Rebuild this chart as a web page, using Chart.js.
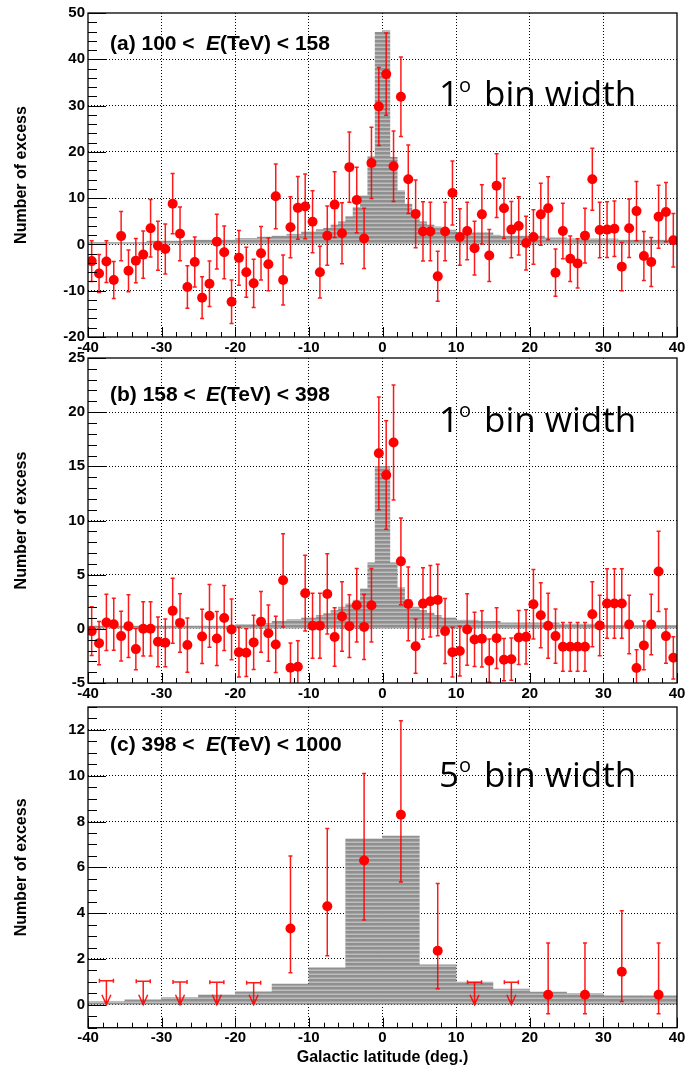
<!DOCTYPE html>
<html>
<head>
<meta charset="utf-8">
<script src="https://cdn.jsdelivr.net/npm/chart.js@4.4.1/dist/chart.umd.min.js"></script>
<style>
  html, body { margin: 0; padding: 0; background: #fff; }
  body { width: 690px; height: 1072px; position: relative; overflow: hidden; }
  canvas { position: absolute; left: 0; }
</style>
</head>
<body>
<canvas id="chartA" width="690" height="360" style="top:0px"></canvas>
<canvas id="chartB" width="690" height="360" style="top:345px"></canvas>
<canvas id="chartC" width="690" height="377" style="top:695px"></canvas>
<script>
// bin centres (deg)
const lat1deg = [
  -39.5, -38.5, -37.5, -36.5, -35.5, -34.5, -33.5, -32.5, -31.5, -30.5,
  -29.5, -28.5, -27.5, -26.5, -25.5, -24.5, -23.5, -22.5, -21.5, -20.5,
  -19.5, -18.5, -17.5, -16.5, -15.5, -14.5, -13.5, -12.5, -11.5, -10.5,
  -9.5, -8.5, -7.5, -6.5, -5.5, -4.5, -3.5, -2.5, -1.5, -0.5,
  0.5, 1.5, 2.5, 3.5, 4.5, 5.5, 6.5, 7.5, 8.5, 9.5,
  10.5, 11.5, 12.5, 13.5, 14.5, 15.5, 16.5, 17.5, 18.5, 19.5,
  20.5, 21.5, 22.5, 23.5, 24.5, 25.5, 26.5, 27.5, 28.5, 29.5,
  30.5, 31.5, 32.5, 33.5, 34.5, 35.5, 36.5, 37.5, 38.5, 39.5
];
const lat5deg = [-37.5, -32.5, -27.5, -22.5, -17.5, -12.5, -7.5, -2.5, 2.5, 7.5, 12.5, 17.5, 22.5, 27.5, 32.5, 37.5];

// (a) 100 < E < 158 TeV
const modelA = [
  0.43, 0.43, 0.43, 0.43, 0.43, 0.43, 0.43, 0.43, 0.71, 0.71,
  0.71, 0.71, 0.71, 0.93, 0.93, 0.93, 0.93, 0.93, 0.93, 0.93,
  1.3, 1.3, 1.3, 1.58, 1.58, 1.8, 1.8, 2.2, 2.2, 2.7,
  2.7, 3.2, 3.5, 4.2, 4.9, 6.0, 8.0, 10.5, 18.9, 45.8,
  46.2, 18.8, 11.6, 8.7, 5.6, 4.9, 4.2, 3.8, 3.1, 3.1,
  2.5, 2.5, 2.5, 2.5, 2.5, 2.0, 1.8, 1.8, 1.8, 1.8,
  1.8, 1.8, 1.4, 1.4, 1.4, 1.2, 1.2, 1.2, 1.2, 1.2,
  1.2, 1.2, 0.93, 0.93, 0.93, 0.93, 0.93, 0.93, 0.93, 0.93
];
const excessA = [
  -3.6, -6.3, -3.7, -7.7, 1.8, -5.7, -3.5, -2.2, 3.5, -0.3,
  -1.0, 8.8, 2.3, -9.2, -3.8, -11.5, -8.5, 0.6, -1.7, -12.4,
  -2.9, -6.0, -8.4, -1.9, -4.3, 10.4, -7.7, 3.7, 7.9, 8.2,
  4.9, -6.0, 1.9, 8.6, 2.4, 16.7, 9.6, 1.3, 17.6, 29.8,
  36.8, 16.9, 31.9, 14.1, 6.6, 2.8, 2.8, -6.9, 2.8, 11.1,
  1.6, 2.9, -0.8, 6.5, -2.4, 12.7, 7.8, 3.2, 4.0, 0.3,
  1.6, 6.5, 7.8, -6.1, 2.9, -3.1, -4.1, 1.9, 14.1, 3.1,
  3.2, 3.4, -4.8, 3.5, 7.2, -2.5, -3.8, 6.0, 7.0, 0.9
];
const errA = [
  4.4, 4.1, 4.5, 4.0, 5.3, 4.5, 4.8, 5.1, 6.2, 5.3,
  5.4, 6.5, 5.8, 4.6, 5.4, 4.5, 4.9, 5.9, 5.7, 4.7,
  5.9, 5.4, 5.2, 5.8, 5.7, 7.0, 5.4, 6.6, 6.8, 7.0,
  6.7, 5.6, 6.4, 7.1, 6.6, 7.6, 7.1, 6.5, 7.7, 8.4,
  8.9, 7.6, 8.6, 7.4, 7.3, 6.4, 6.3, 5.4, 6.3, 6.9,
  6.1, 6.2, 5.8, 6.4, 5.6, 6.9, 6.5, 6.1, 6.3, 5.8,
  5.9, 6.7, 6.8, 5.1, 6.0, 4.9, 5.3, 5.9, 6.7, 6.0,
  6.0, 6.0, 5.2, 6.3, 6.4, 5.3, 5.3, 6.8, 6.4, 5.8
];

// (b) 158 < E < 398 TeV
const modelB = [
  0.25, 0.25, 0.25, 0.25, 0.25, 0.25, 0.25, 0.25, 0.25, 0.25,
  0.25, 0.25, 0.25, 0.25, 0.25, 0.25, 0.25, 0.25, 0.25, 0.25,
  0.4, 0.4, 0.4, 0.5, 0.5, 0.7, 0.7, 0.85, 0.85, 1.0,
  1.0, 1.25, 1.4, 1.7, 2.0, 2.3, 2.65, 3.7, 6.1, 15.0,
  15.0, 6.1, 3.8, 2.7, 2.0, 1.7, 1.45, 1.25, 1.0, 1.0,
  0.8, 0.8, 0.8, 0.7, 0.7, 0.7, 0.55, 0.55, 0.55, 0.55,
  0.55, 0.55, 0.55, 0.55, 0.43, 0.43, 0.43, 0.43, 0.43, 0.43,
  0.3, 0.3, 0.3, 0.3, 0.3, 0.3, 0.3, 0.3, 0.3, 0.3
];
const excessB = [
  -0.21, -1.32, 0.59, 0.43, -0.67, 0.25, -1.87, 0.0, 0.0, -1.2,
  -1.29, 1.66, 0.55, -1.5, null, -0.7, 1.2, -0.89, 1.0, -0.05,
  -2.15, -2.2, -1.25, 0.65, -0.4, -1.44, 4.48, -3.6, -3.5, 3.29,
  0.28, 0.28, 3.22, -0.76, 1.14, 0.25, 2.18, 0.18, 2.18, 16.2,
  14.2, 17.2, 6.23, 2.3, -1.6, 2.33, 2.55, 2.67, -0.21, -2.15,
  -2.05, -0.06, -0.98, -0.92, -2.94, -0.86, -2.85, -2.8, -0.8, -0.74,
  2.27, 1.26, 0.28, -0.67, -1.66, -1.66, -1.66, -1.66, 1.35, 0.31,
  2.34, 2.34, 2.34, 0.4, -3.62, -1.53, 0.4, 5.3, -0.67, -2.67
];
const errB = [
  2.25, 2.0, 2.6, 2.4, 2.3, 2.9, 1.9, 2.5, 2.5, 2.3,
  2.2, 3.0, 2.7, 2.5, null, 2.5, 2.9, 2.5, 3.0, 2.8,
  2.3, 2.2, 2.5, 2.8, 2.6, 2.6, 4.3, 2.3, 2.4, 3.5,
  3.0, 3.0, 3.7, 2.7, 3.2, 2.9, 3.4, 3.0, 3.4, 5.2,
  5.0, 5.3, 4.0, 3.4, 2.5, 3.3, 3.3, 3.3, 3.0, 2.3,
  2.3, 3.3, 2.5, 2.6, 2.0, 2.8, 1.95, 1.95, 2.5, 2.5,
  3.2, 3.0, 3.0, 2.5, 2.25, 2.25, 2.25, 2.25, 3.0, 2.8,
  3.2, 3.2, 3.2, 2.7, 1.7, 2.25, 2.8, 3.7, 2.5, 1.95
];

// (c) 398 < E < 1000 TeV, 5 deg bins
const modelC = [0.14, 0.22, 0.31, 0.43, 0.57, 0.9, 1.61, 7.25, 7.37, 1.74, 0.99, 0.69, 0.56, 0.49, 0.39, 0.39];
const latC = [-12.5, -7.5, -2.5, 2.5, 7.5, 22.5, 27.5, 32.5, 37.5];
const excessC = [3.33, 4.3, 6.3, 8.3, 2.36, 0.44, 0.44, 1.44, 0.44];
const errLoC = [1.93, 2.16, 2.6, 2.94, 1.66, 0.83, 0.83, 1.3, 0.83];
const errHiC = [3.17, 3.4, 3.8, 4.1, 2.94, 2.26, 2.26, 2.66, 2.26];
const ulLatC = [-37.5, -32.5, -27.5, -22.5, -17.5, 12.5, 17.5];
const ulValC = [1.05, 1.03, 1.0, 0.98, 0.96, 0.98, 0.98];

const SANS = '"Liberation Sans", Arial, Helvetica, sans-serif';
const tickFont = { family: SANS, size: 15, weight: 'bold' };
const titleFont = { family: SANS, size: 16, weight: 'bold' };

function isMajor(v, step) {
    const r = v / step;
    return Math.abs(r - Math.round(r)) < 1e-6;
}

function stripes(ctx) {
    const c = document.createElement('canvas');
    c.width = 4; c.height = 4;
    const g = c.getContext('2d');
    g.fillStyle = '#8f8f8f';
    g.fillRect(0, 0, 4, 4);
    g.fillStyle = '#a6a6a6';
    g.fillRect(0, 2, 4, 1);
    g.fillStyle = '#bdbdbd';
    g.fillRect(0, 3, 4, 1);
    return ctx.createPattern(c, 'repeat');
}

function makeDecor(p) {
    return {
        id: 'decor',
        beforeDatasetDraw(chart, args) {
            if (args.index !== 0) return;
            const { ctx, chartArea: a, scales: { x, y } } = chart;
            ctx.save();
            ctx.beginPath();
            ctx.rect(a.left, a.top, a.right - a.left, a.bottom - a.top);
            ctx.clip();
            ctx.strokeStyle = 'rgba(255, 0, 0, 0.9)';
            ctx.lineWidth = 1.5;
            ctx.beginPath();
            p.ptX.forEach((lat, i) => {
                const v = p.ptY[i];
                if (v === null) return;
                const px = x.getPixelForValue(lat);
                const lo = y.getPixelForValue(v - p.errLo[i]);
                const hi = y.getPixelForValue(v + p.errHi[i]);
                ctx.moveTo(px, lo); ctx.lineTo(px, hi);
                ctx.moveTo(px - 2, lo); ctx.lineTo(px + 2, lo);
                ctx.moveTo(px - 2, hi); ctx.lineTo(px + 2, hi);
            });
            // upper limits
            (p.ulX || []).forEach((lat, i) => {
                const px = x.getPixelForValue(lat);
                const top = y.getPixelForValue(p.ulY[i]);
                const tip = y.getPixelForValue(0);
                ctx.moveTo(px - 7, top); ctx.lineTo(px + 7, top);
                ctx.moveTo(px - 7, top - 2); ctx.lineTo(px - 7, top + 2);
                ctx.moveTo(px + 7, top - 2); ctx.lineTo(px + 7, top + 2);
                ctx.moveTo(px, top); ctx.lineTo(px, tip);
                ctx.moveTo(px - 4.5, tip - 10); ctx.lineTo(px, tip); ctx.lineTo(px + 4.5, tip - 10);
            });
            ctx.stroke();
            ctx.restore();
        },
        afterDraw(chart) {
            const { ctx, chartArea: a, scales: { x, y } } = chart;
            ctx.save();
            // ticks inside the frame
            ctx.strokeStyle = '#000';
            ctx.lineWidth = 1;
            ctx.beginPath();
            y.ticks.forEach(t => {
                const py = Math.round(y.getPixelForValue(t.value)) + 0.5;
                const len = isMajor(t.value, p.yMajor) ? 18 : 9;
                ctx.moveTo(a.left, py); ctx.lineTo(a.left + len, py);
            });
            x.ticks.forEach(t => {
                const px = Math.round(x.getPixelForValue(t.value)) + 0.5;
                const len = isMajor(t.value, 10) ? 10 : 5;
                ctx.moveTo(px, a.bottom); ctx.lineTo(px, a.bottom - len);
            });
            ctx.stroke();
            ctx.lineWidth = 1.3;
            ctx.strokeRect(a.left, a.top, a.right - a.left, a.bottom - a.top);

            // energy band label
            ctx.fillStyle = '#000';
            ctx.textBaseline = 'alphabetic';
            ctx.textAlign = 'left';
            ctx.font = 'bold 21px ' + SANS;
            ctx.fillText(p.label[0], 110, p.labelY);
            ctx.font = 'italic bold 21px ' + SANS;
            ctx.fillText('E', 206, p.labelY);
            const ew = ctx.measureText('E').width;
            ctx.font = 'bold 21px ' + SANS;
            ctx.fillText(p.label[1], 206 + ew, p.labelY);

            // bin width note
            const fs = 35;
            const bx = 439;
            ctx.font = fs + 'px "Open Sans", sans-serif';
            ctx.fillText(p.binDeg, bx, p.binY);
            const w1 = ctx.measureText(p.binDeg).width;
            ctx.font = Math.round(fs * 0.56) + 'px "Open Sans", sans-serif';
            ctx.fillText('o', bx + w1, p.binY - fs * 0.41);
            const w2 = ctx.measureText('o').width;
            ctx.font = fs + 'px "Open Sans", sans-serif';
            ctx.fillText('bin width', bx + w1 + w2 + 13, p.binY);
            ctx.restore();
        }
    };
}

function makePanel(id, p) {
    const canvas = document.getElementById(id);
    const xTitle = p.xTitle || '';
    new Chart(canvas, {
        type: 'bar',
        data: {
            datasets: [{
                type: 'scatter',
                data: p.ptX.map((lat, i) => ({ x: lat, y: p.ptY[i] })),
                backgroundColor: '#ff0000',
                borderWidth: 0,
                pointRadius: 5,
                pointHoverRadius: 5
            }, {
                type: 'bar',
                data: p.binX.map((lat, i) => ({ x: lat, y: p.model[i] })),
                backgroundColor: stripes(canvas.getContext('2d')),
                borderWidth: 0,
                barThickness: 'flex',
                categoryPercentage: 1,
                barPercentage: 1
            }]
        },
        options: {
            responsive: false,
            animation: false,
            layout: { padding: { left: 0, right: 13, top: p.padTop, bottom: 0 } },
            plugins: { legend: { display: false }, tooltip: { enabled: false } },
            scales: {
                x: {
                    type: 'linear',
                    min: -40,
                    max: 40,
                    offset: false,
                    ticks: {
                        stepSize: 2,
                        autoSkip: false,
                        maxRotation: 0,
                        padding: p.xPad,
                        color: '#000',
                        font: tickFont,
                        callback: v => isMajor(v, 10) ? String(v) : ''
                    },
                    grid: {
                        offset: false,
                        drawTicks: false,
                        lineWidth: 1,
                        color: c => (isMajor(c.tick.value, 10) && Math.abs(c.tick.value) < 40) ? '#000' : 'rgba(0,0,0,0)'
                    },
                    border: { display: false, dash: [1, 2] },
                    title: {
                        display: xTitle !== '',
                        text: xTitle,
                        color: '#000',
                        font: titleFont,
                        padding: { top: 0, bottom: 5 }
                    },
                    afterFit: s => { s.height = p.xAxisH; }
                },
                y: {
                    min: p.yMin,
                    max: p.yMax,
                    ticks: {
                        stepSize: p.yStep,
                        autoSkip: false,
                        padding: 3,
                        color: '#000',
                        font: tickFont,
                        callback: v => isMajor(v, p.yMajor) ? String(v) : ''
                    },
                    grid: {
                        drawTicks: false,
                        lineWidth: 1,
                        color: c => (isMajor(c.tick.value, p.yMajor) && c.tick.value > p.yMin && c.tick.value < p.yMax) ? '#000' : 'rgba(0,0,0,0)'
                    },
                    border: { display: false, dash: [1, 2] },
                    title: {
                        display: true,
                        text: 'Number of excess',
                        color: '#000',
                        font: titleFont,
                        padding: { top: 12, bottom: 0 }
                    },
                    afterFit: s => { s.width = 88; }
                }
            }
        },
        plugins: [makeDecor(p)]
    });
}

makePanel('chartA', {
    binX: lat1deg, model: modelA,
    ptX: lat1deg, ptY: excessA, errLo: errA, errHi: errA,
    yMin: -20, yMax: 50, yStep: 2, yMajor: 10,
    padTop: 13, xAxisH: 23, xPad: 2,
    label: ['(a) 100 <', '(TeV) < 158'], labelY: 50,
    binDeg: '1', binY: 106
});

makePanel('chartB', {
    binX: lat1deg, model: modelB,
    ptX: lat1deg, ptY: excessB, errLo: errB, errHi: errB,
    yMin: -5, yMax: 25, yStep: 1, yMajor: 5,
    padTop: 13, xAxisH: 22, xPad: 2,
    label: ['(b) 158 <', '(TeV) < 398'], labelY: 56,
    binDeg: '1', binY: 86.7
});

makePanel('chartC', {
    binX: lat5deg, model: modelC,
    ptX: latC, ptY: excessC, errLo: errLoC, errHi: errHiC,
    ulX: ulLatC, ulY: ulValC,
    yMin: -1, yMax: 13, yStep: 0.5, yMajor: 2,
    padTop: 8.3, xAxisH: 44.3, xPad: 1,
    label: ['(c) 398 <', '(TeV) < 1000'], labelY: 55.7,
    binDeg: '5', binY: 91.7,
    xTitle: 'Galactic latitude (deg.)'
});
</script>
</body>
</html>
